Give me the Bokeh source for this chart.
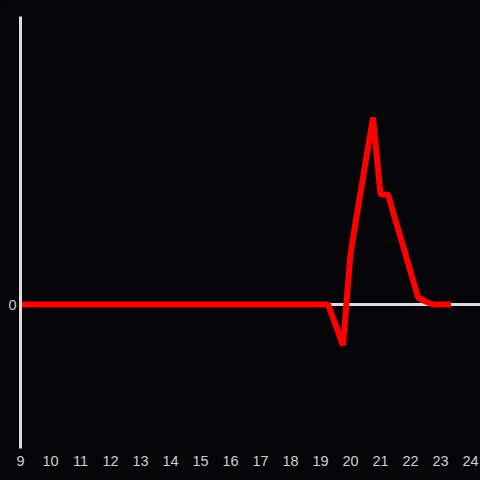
from bokeh.plotting import figure
from bokeh.models import FixedTicker, Span, Range1d
from bokeh.embed import file_html
from bokeh.resources import INLINE

# Data: quarter-hour readings
hours = [9.0, 9.25, 9.5, 9.75, 10.0, 10.25, 10.5, 10.75, 11.0, 11.25, 11.5, 11.75,
         12.0, 12.25, 12.5, 12.75, 13.0, 13.25, 13.5, 13.75, 14.0, 14.25, 14.5, 14.75,
         15.0, 15.25, 15.5, 15.75, 16.0, 16.25, 16.5, 16.75, 17.0, 17.25, 17.5, 17.75,
         18.0, 18.25, 18.5, 18.75, 19.0, 19.25, 19.5, 19.75, 20.0, 20.25, 20.5, 20.75,
         21.0, 21.25, 21.5, 21.75, 22.0, 22.25, 22.5, 22.75, 23.0, 23.25]
values = [0, 0, 0, 0, 0, 0, 0, 0, 0, 0, 0, 0,
          0, 0, 0, 0, 0, 0, 0, 0, 0, 0, 0, 0,
          0, 0, 0, 0, 0, 0, 0, 0, 0, 0, 0, 0,
          0, 0, 0, 0, 0, 0, -20, -41, 51, 97, 142, 187,
          110, 110, 84, 59, 33, 7, 3, 0, 0, 0]
x_ticks = [9, 10, 11, 12, 13, 14, 15, 16, 17, 18, 19, 20, 21, 22, 23, 24]
y_ticks = [0]

BG = "#050407"
W = H = 480

p = figure(width=W, height=H, output_backend="svg", toolbar_location=None,
           x_range=Range1d(9, 24.333), y_range=Range1d(-144, 288),
           background_fill_color=BG, border_fill_color=BG,
           min_border_left=20, min_border_right=0, min_border_top=16, min_border_bottom=32)
p.styles = {"background-color": BG}
p.outline_line_color = None
p.grid.visible = False

p.xaxis.ticker = FixedTicker(ticks=x_ticks)
p.xaxis.axis_line_color = None
p.xaxis.major_tick_line_color = None
p.xaxis.minor_tick_line_color = None
p.xaxis.major_tick_out = 0
p.xaxis.major_label_standoff = 7
p.xaxis.major_label_text_color = "#d0d0d0"
p.xaxis.major_label_text_font = "Liberation Sans"
p.xaxis.major_label_text_font_size = "14.5px"

p.yaxis.ticker = FixedTicker(ticks=y_ticks)
p.yaxis.axis_line_color = "#dddddd"
p.yaxis.axis_line_width = 3
p.yaxis.major_tick_line_color = None
p.yaxis.minor_tick_line_color = None
p.yaxis.major_tick_out = 0
p.yaxis.major_label_standoff = 4
p.yaxis.major_label_text_color = "#c8c8c8"
p.yaxis.major_label_text_font = "Liberation Sans"
p.yaxis.major_label_text_font_size = "14.5px"

p.add_layout(Span(location=0, dimension="width", line_color="#dddddd", line_width=3,
                  level="underlay"))
p.line(hours, values, line_color="#ff0000", line_width=6, line_cap="square")

open("out.html", "w").write(file_html(p, INLINE))
